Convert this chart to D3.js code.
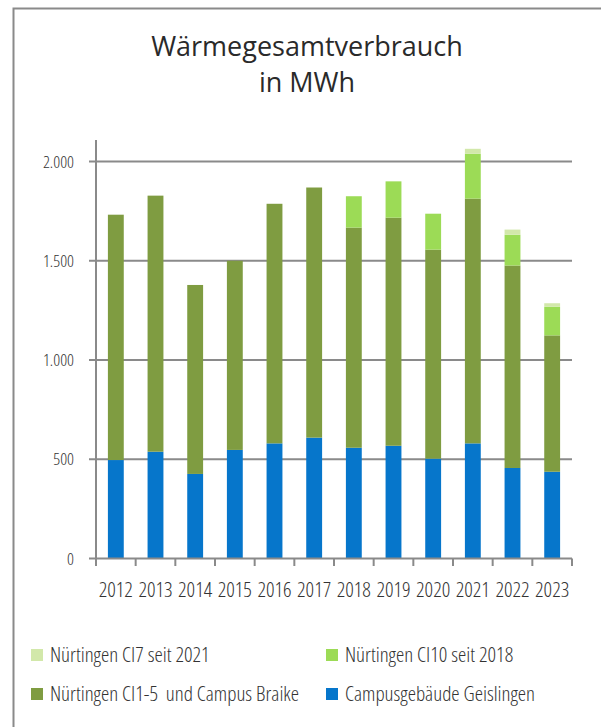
<!DOCTYPE html>
<html>
<head>
<meta charset="utf-8">
<script src="https://cdn.jsdelivr.net/npm/d3@7"></script>
<style>
  body { margin: 0; background: #fff; }
  text { font-family: "Open Sans", sans-serif; fill: #2a2a2a; }
  .narrow { font-stretch: condensed; font-weight: 300; fill: #333; white-space: pre; }
</style>
</head>
<body>
<div id="chart"></div>
<script>
var years = ["2012","2013","2014","2015","2016","2017","2018","2019","2020","2021","2022","2023"];
var geislingen = [496, 538, 426, 547, 580, 609, 558, 568, 503, 580, 456, 437];
var ci1_5 = [1236, 1290, 952, 953, 1207, 1260, 1109, 1149, 1053, 1233, 1020, 687];
var ci10 = [0, 0, 0, 0, 0, 0, 158, 183, 181, 226, 155, 144];
var ci7 = [0, 0, 0, 0, 0, 0, 0, 0, 0, 25, 26, 18];
var yTicks = [0, 500, 1000, 1500, 2000];

var seriesKeys = ["geislingen", "ci1_5", "ci10", "ci7"];
var seriesNames = {
  geislingen: "Campusgebäude Geislingen",
  ci1_5: "Nürtingen CI1-5  und Campus Braike",
  ci10: "Nürtingen CI10 seit 2018",
  ci7: "Nürtingen CI7 seit 2021"
};
var colors = { geislingen: "#0676cb", ci1_5: "#7f9c41", ci10: "#9cdb56", ci7: "#d2e8aa" };

var rows = years.map(function(y, i) {
  return { year: y, geislingen: geislingen[i], ci1_5: ci1_5[i], ci10: ci10[i], ci7: ci7[i] };
});

var width = 601, height = 727;
var svg = d3.select("#chart").append("svg")
    .attr("width", width)
    .attr("height", height);

// frame
svg.append("rect")
    .attr("x", 13.5).attr("y", 8.5)
    .attr("width", 700).attr("height", 800)
    .attr("fill", "none")
    .attr("stroke", "#8a8a8a")
    .attr("stroke-width", 2);

// title
svg.append("text").attr("x", 307).attr("y", 56)
    .attr("text-anchor", "middle").attr("font-size", "27px")
    .text("Wärmegesamtverbrauch");
svg.append("text").attr("x", 307).attr("y", 92)
    .attr("text-anchor", "middle").attr("font-size", "27px")
    .text("in MWh");

var x = d3.scaleBand().domain(years).range([96, 572]).paddingInner(0.6).paddingOuter(0.3);
var y = d3.scaleLinear().domain([0, 2000]).range([558.5, 161.5]);

// grid lines
svg.selectAll(".grid").data(yTicks.slice(1)).enter().append("line")
    .attr("x1", 89).attr("x2", 572)
    .attr("y1", function(d) { return y(d); })
    .attr("y2", function(d) { return y(d); })
    .attr("stroke", "#8a8a8a").attr("stroke-width", 2);

var stack = d3.stack().keys(seriesKeys)(rows);

svg.selectAll(".layer").data(stack).enter().append("g")
    .attr("fill", function(d) { return colors[d.key]; })
  .selectAll("rect").data(function(d) { return d; }).enter().append("rect")
    .attr("x", function(d) { return x(d.data.year); })
    .attr("width", x.bandwidth())
    .attr("y", function(d) { return y(d[1]); })
    .attr("height", function(d) { return y(d[0]) - y(d[1]); });

// axes
svg.append("line").attr("x1", 96).attr("x2", 96).attr("y1", 140).attr("y2", 558.5)
    .attr("stroke", "#8a8a8a").attr("stroke-width", 2);
svg.append("line").attr("x1", 89).attr("x2", 572).attr("y1", 558.5).attr("y2", 558.5)
    .attr("stroke", "#8a8a8a").attr("stroke-width", 2);

svg.selectAll(".ylab").data(yTicks).enter().append("text")
    .attr("class", "narrow")
    .attr("x", 74)
    .attr("y", function(d) { return y(d) + 6; })
    .attr("text-anchor", "end").attr("font-size", "17px")
    .text(function(d) { return d3.format(",")(d).replace(/,/g, "."); });

// x ticks
var bounds = years.map(function(yr) { return x(yr) - x.step() * x.paddingInner() / 2; });
bounds.push(572);
svg.selectAll(".xtick").data(bounds).enter().append("line")
    .attr("x1", function(d) { return d; }).attr("x2", function(d) { return d; })
    .attr("y1", 558.5).attr("y2", 566)
    .attr("stroke", "#8a8a8a").attr("stroke-width", 2);

svg.selectAll(".xlab").data(years).enter().append("text")
    .attr("class", "narrow")
    .attr("x", function(d) { return x(d) + x.bandwidth() / 2; })
    .attr("y", 597)
    .attr("text-anchor", "middle").attr("font-size", "21px")
    .text(function(d) { return d; });

// legend
var legendItems = [
  { key: "ci7", x: 31, y: 649 },
  { key: "ci10", x: 326, y: 649 },
  { key: "ci1_5", x: 31, y: 688 },
  { key: "geislingen", x: 326, y: 688 }
];
var lg = svg.selectAll(".legend").data(legendItems).enter().append("g")
    .attr("transform", function(d) { return "translate(" + d.x + "," + d.y + ")"; });
lg.append("rect").attr("width", 12).attr("height", 12)
    .attr("fill", function(d) { return colors[d.key]; });
lg.append("text").attr("class", "narrow")
    .attr("x", 19).attr("y", 13).attr("font-size", "21px")
    .text(function(d) { return seriesNames[d.key]; });
</script>
</body>
</html>
